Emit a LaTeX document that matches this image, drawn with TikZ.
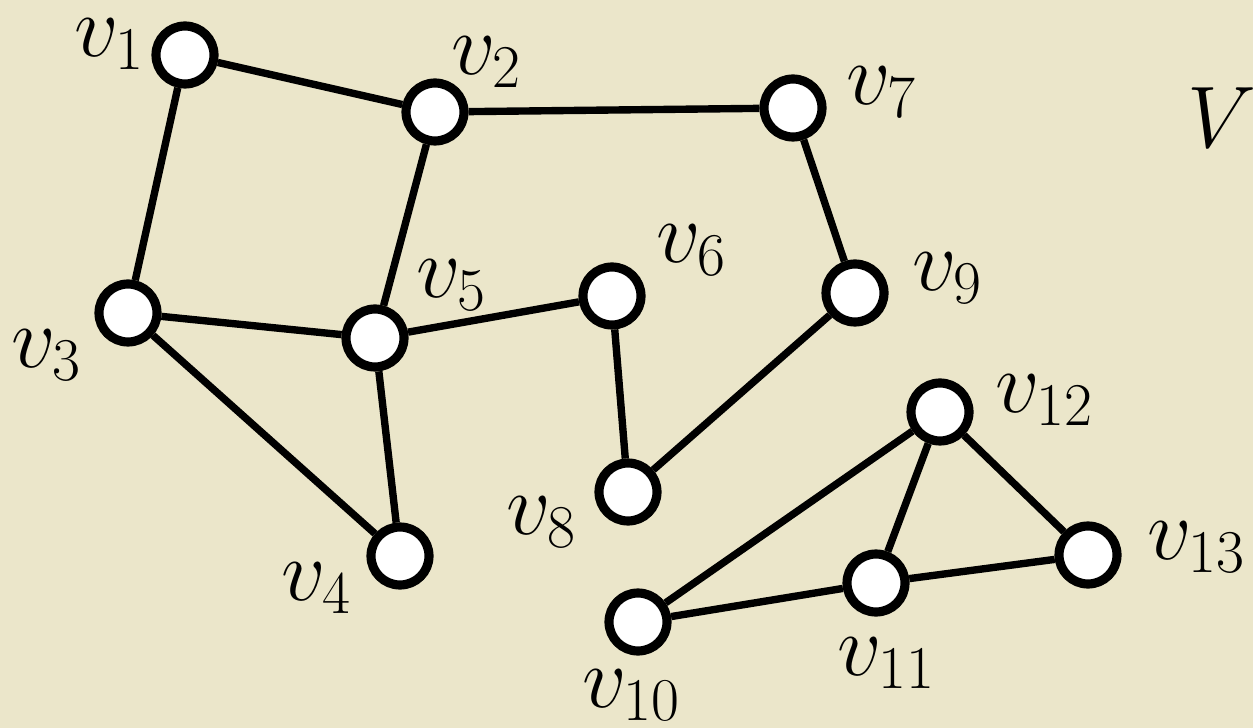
\documentclass[tikz,border=0pt]{standalone}
\definecolor{paper}{RGB}{235, 230, 202}
\usepackage{tikz}
\usetikzlibrary{positioning}
\usepackage{amsmath, amssymb}

\begin{document}
\begin{tikzpicture}[
  x=1cm, y=-1cm,
  vert/.style={circle, draw, fill=white, line width=2.6pt, minimum size=0.58cm, inner sep=0pt},
  vlab/.style={font=\fontsize{25}{30}\selectfont, inner sep=0pt},
  edge/.style={line width=2.1pt}
]
  \fill[paper] (0, 0) rectangle (12.53, 7.28);
  \useasboundingbox (0, 0) rectangle (12.53, 7.28);

  % vertices
  \node[vert] (v1) at (1.85, 0.55) {};
  \node[vert] (v2) at (4.35, 1.12) {};
  \node[vert] (v7) at (7.93, 1.08) {};
  \node[vert] (v3) at (1.28, 3.13) {};
  \node[vert] (v5) at (3.75, 3.38) {};
  \node[vert] (v6) at (6.12, 2.96) {};
  \node[vert] (v9) at (8.55, 2.93) {};
  \node[vert] (v4) at (4.00, 5.56) {};
  \node[vert] (v8) at (6.28, 4.92) {};
  \node[vert] (v12) at (9.40, 4.12) {};
  \node[vert] (v13) at (10.88, 5.55) {};
  \node[vert] (v11) at (8.76, 5.83) {};
  \node[vert] (v10) at (6.38, 6.22) {};

  % edges
  \draw[edge] (v1) -- (v2);
  \draw[edge] (v1) -- (v3);
  \draw[edge] (v2) -- (v7);
  \draw[edge] (v2) -- (v5);
  \draw[edge] (v3) -- (v5);
  \draw[edge] (v3) -- (v4);
  \draw[edge] (v5) -- (v4);
  \draw[edge] (v5) -- (v6);
  \draw[edge] (v6) -- (v8);
  \draw[edge] (v7) -- (v9);
  \draw[edge] (v9) -- (v8);
  \draw[edge] (v12) -- (v10);
  \draw[edge] (v12) -- (v11);
  \draw[edge] (v12) -- (v13);
  \draw[edge] (v10) -- (v11);
  \draw[edge] (v11) -- (v13);

  % labels
  \node[vlab] (l1) at (1.10, 0.44) {$v_1$};
  \node[vlab] (l2) at (4.87, 0.62) {$v_2$};
  \node[vlab] (l7) at (8.82, 0.92) {$v_7$};
  \node[vlab] (l3) at (0.47, 3.55) {$v_3$};
  \node[vlab] (l5) at (4.52, 2.85) {$v_5$};
  \node[vlab] (l6) at (6.92, 2.50) {$v_6$};
  \node[vlab] (l9) at (9.48, 2.78) {$v_9$};
  \node[vlab] (l4) at (3.17, 5.88) {$v_4$};
  \node[vlab] (l8) at (5.42, 5.22) {$v_8$};
  \node[vlab] (l12) at (10.45, 4.00) {$v_{12}$};
  \node[vlab] (l13) at (11.97, 5.47) {$v_{13}$};
  \node[vlab] (l11) at (8.87, 6.63) {$v_{11}$};
  \node[vlab] (l10) at (6.32, 6.95) {$v_{10}$};
  \node[vlab] (lV) at (12.22, 1.18) {$V$};
\end{tikzpicture}
\end{document}
